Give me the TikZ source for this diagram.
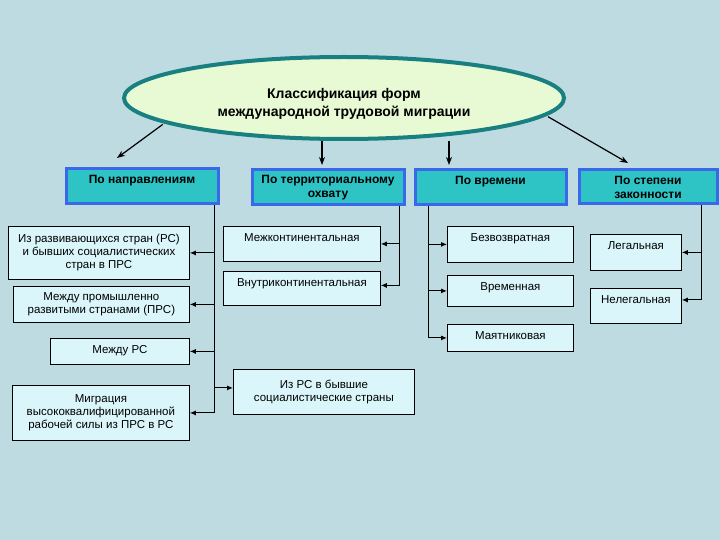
\documentclass[tikz,border=0pt]{standalone}
\usepackage{fontspec}
\setmainfont{Liberation Sans}
\usepackage{xcolor}
\usepackage{tikz}
\usetikzlibrary{arrows.meta,shapes.geometric}

\definecolor{bgblue}{RGB}{190,219,225}
\definecolor{itemfill}{RGB}{218,246,250}
\definecolor{headfill}{RGB}{46,196,198}
\definecolor{headline}{RGB}{58,104,232}
\definecolor{ovalfill}{RGB}{232,250,212}
\definecolor{ovalline}{RGB}{24,128,128}

\begin{document}
\begin{tikzpicture}[
  x=1pt, y=-1pt,
  >=Latex,
  font=\fontsize{11.5}{13}\selectfont,
  item/.style={draw, line width=0.8pt, fill=itemfill, align=center, anchor=north west},
  oneline/.style={inner ysep=0pt, text height=15pt, text depth=#1},
  head/.style={draw=headline, line width=3pt, fill=headfill, align=center, anchor=north west, font=\fontsize{12}{14}\selectfont\bfseries},
  arrow/.style={-{Latex[length=6pt,width=5pt]}, line width=1pt},
  big/.style={-{Stealth[length=8pt,width=6pt]}, line width=1.2pt}
]
\fill[bgblue] (0,0) rectangle (720,540);
\useasboundingbox (0,0) rectangle (720,540);

% title
\node[ellipse, draw=ovalline, line width=4pt, fill=ovalfill, minimum width=440pt, minimum height=82pt,
  align=center, font=\fontsize{14}{18}\selectfont\bfseries] (cls) at (344,98)
  {\rule{0pt}{22pt}Классификация форм\\международной трудовой миграции};

% headers
\node[head, oneline=20pt, minimum width=152pt] (h1) at (64.5,167.5) {По направлениям};
\node[head, minimum width=152pt, minimum height=35pt] (h2) at (250.5,168.5) {По территориальному\\охвату};
\node[head, oneline=20pt, minimum width=151pt] (h3) at (413.5,168.5) {По времени};
\node[head, minimum width=138pt, minimum height=34pt] (h4) at (577.5,168.5) {По степени\\законности};

\coordinate (a1) at (117,158);
\coordinate (a2) at (322,165);
\coordinate (a3) at (449,165);
\coordinate (a4) at (628,163);
\draw[big, shorten <=2pt] (cls.188) -- (a1);
\draw[big] (a2 |- cls.south) -- (a2);
\draw[big] (a3 |- cls.south) -- (a3);
\draw[big, shorten <=2pt] (cls.-5) -- (a4);

% by direction
\node[item, minimum width=181pt, minimum height=53pt] (d1) at (8,226) {Из развивающихся стран (РС)\\и бывших социалистических\\стран в ПРС};
\node[item, minimum width=176pt, minimum height=36pt] (d2) at (13,286) {Между промышленно\\развитыми странами (ПРС)};
\node[item, oneline=11pt, minimum width=139pt] (d3) at (50,338) {Между РС};
\node[item, minimum width=177pt, minimum height=55pt] (d4) at (12,385) {Миграция\\высококвалифицированной\\рабочей силы из ПРС в РС};
\node[item, minimum width=181pt, minimum height=45pt] (d5) at (233,369) {Из РС в бывшие\\социалистические страны};

% by territory
\node[item, oneline=20pt, minimum width=157pt] (s1) at (223,226) {Межконтинентальная};
\node[item, oneline=19pt, minimum width=157pt] (s2) at (223,271) {Внутриконтинентальная};

% by time
\node[item, oneline=21pt, minimum width=126pt] (t1) at (447,226) {Безвозвратная};
\node[item, oneline=16pt, minimum width=126pt] (t2) at (447,275) {Временная};
\node[item, oneline=12pt, minimum width=126pt] (t3) at (447,324) {Маятниковая};

% by legality
\node[item, oneline=21pt, minimum width=91pt] (l1) at (590,234) {Легальная};
\node[item, oneline=20pt, minimum width=91pt] (l2) at (590,288) {Нелегальная};

\draw[arrow] ([xshift=-5.5pt]h1.south east) |- (d1.east);
\draw[arrow] ([xshift=-5.5pt]h1.south east) |- (d2.east);
\draw[arrow] ([xshift=-5.5pt]h1.south east) |- (d3.east);
\draw[arrow] ([xshift=-5.5pt]h1.south east) |- (d4.east);
\draw[arrow] ([xshift=-5.5pt]h1.south east) |- ([yshift=4pt]d5.west);
\draw[arrow] ([xshift=-6.5pt]h2.south east) |- (s1.east);
\draw[arrow] ([xshift=-6.5pt]h2.south east) |- ([yshift=3pt]s2.east);
\draw[arrow] ([xshift=14.5pt]h3.south west) |- (t1.west);
\draw[arrow] ([xshift=14.5pt]h3.south west) |- (t2.west);
\draw[arrow] ([xshift=14.5pt]h3.south west) |- (t3.west);
\draw[arrow] ([xshift=-17.5pt]h4.south east) |- (l1.east);
\draw[arrow] ([xshift=-17.5pt]h4.south east) |- ([yshift=6pt]l2.east);
\end{tikzpicture}
\end{document}
